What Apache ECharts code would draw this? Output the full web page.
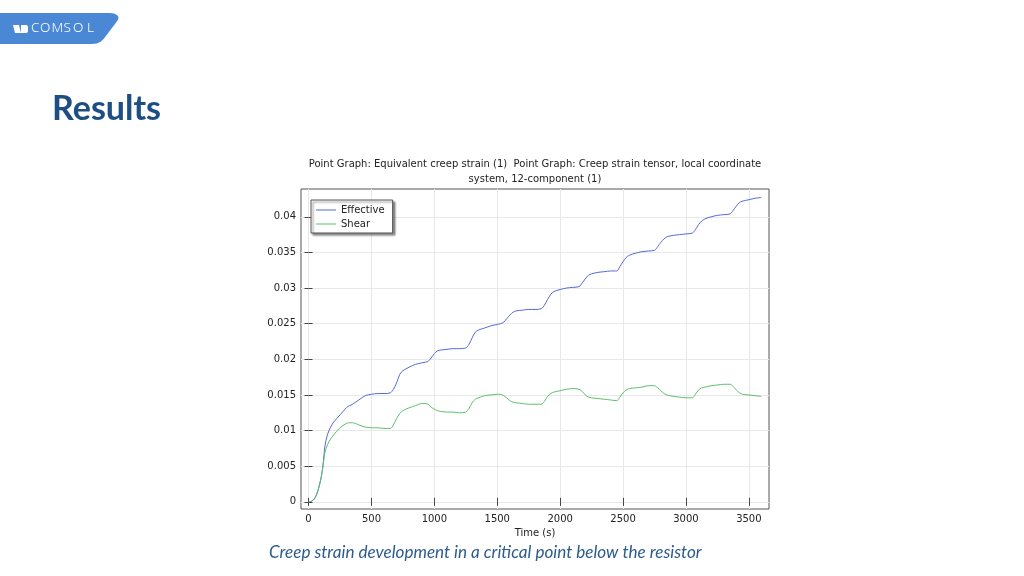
<!DOCTYPE html>
<html>
<head>
<meta charset="utf-8">
<script src="https://cdn.jsdelivr.net/npm/echarts@6.0.0/dist/echarts.min.js"></script>
<style>
  html, body { margin: 0; padding: 0; background: #fff; }
  #chart { width: 1024px; height: 576px; }
</style>
</head>
<body>
<div id="chart"></div>
<script>
// time (s)
const times = [
  0, 25, 50, 75, 100, 115, 130, 150, 175, 200, 250, 300, 325, 350, 400, 450, 500, 550, 600, 650,
  675, 700, 725, 750, 800, 850, 900, 925, 950, 975, 1000, 1025, 1050, 1100, 1150, 1200, 1250,
  1275, 1300, 1325, 1350, 1400, 1450, 1500, 1525, 1550, 1575, 1600, 1625, 1650, 1700, 1750, 1800, 1850,
  1875, 1900, 1925, 1950, 2000, 2050, 2100, 2150, 2175, 2200, 2225, 2250, 2300, 2350, 2400, 2450,
  2475, 2500, 2525, 2550, 2600, 2650, 2700, 2750, 2775, 2800, 2825, 2850, 2900, 2950, 3000, 3050,
  3075, 3100, 3125, 3150, 3200, 3250, 3300, 3350, 3375, 3400, 3425, 3450, 3500, 3550, 3600
];

const effective = [
  0, 0.0001, 0.0005, 0.0016, 0.0034, 0.0052, 0.0078, 0.0094, 0.0105, 0.0112, 0.0122, 0.0132, 0.0135, 0.0137, 0.0143, 0.0149, 0.0151, 0.0152, 0.0152, 0.0153,
  0.0158, 0.0167, 0.0179, 0.0184, 0.0189, 0.0193, 0.0195, 0.0196, 0.0197, 0.0202, 0.0208, 0.0212, 0.0213, 0.0214, 0.0215, 0.0215, 0.0216,
  0.0221, 0.0230, 0.0238, 0.0241, 0.0244, 0.0247, 0.0249, 0.0250, 0.0252, 0.0257, 0.0262, 0.0266, 0.0268, 0.0269, 0.0270, 0.0270, 0.0271,
  0.0276, 0.0284, 0.0291, 0.0295, 0.0298, 0.0300, 0.0301, 0.0302, 0.0307, 0.0313, 0.0318, 0.0320, 0.0322, 0.0323, 0.0324, 0.0324,
  0.0330, 0.0337, 0.0343, 0.0346, 0.0349, 0.0351, 0.0352, 0.0353, 0.0358, 0.0364, 0.0369, 0.0372, 0.0374, 0.0375, 0.0376, 0.0377,
  0.0382, 0.0389, 0.0394, 0.0397, 0.0400, 0.0402, 0.0403, 0.0404, 0.0409, 0.0415, 0.0420, 0.0422, 0.0424, 0.0426, 0.0427
];

const shear = [
  0, 0.0001, 0.0005, 0.0016, 0.0034, 0.0050, 0.0069, 0.0080, 0.0088, 0.0094, 0.0104, 0.0110, 0.0111, 0.0111, 0.0108, 0.0105, 0.0104, 0.0104, 0.0103, 0.0103,
  0.0108, 0.0117, 0.0124, 0.0128, 0.0132, 0.0135, 0.0138, 0.0138, 0.0137, 0.0133, 0.0130, 0.0128, 0.0127, 0.0126, 0.0126, 0.0125, 0.0126,
  0.0131, 0.0139, 0.0144, 0.0146, 0.0149, 0.0150, 0.0151, 0.0151, 0.0149, 0.0146, 0.0142, 0.0140, 0.0139, 0.0138, 0.0137, 0.0137, 0.0137,
  0.0141, 0.0148, 0.0152, 0.0154, 0.0156, 0.0158, 0.0159, 0.0158, 0.0155, 0.0150, 0.0147, 0.0146, 0.0145, 0.0144, 0.0143, 0.0142,
  0.0147, 0.0153, 0.0157, 0.0159, 0.0160, 0.0161, 0.0163, 0.0163, 0.0160, 0.0156, 0.0152, 0.0150, 0.0148, 0.0147, 0.0146, 0.0146,
  0.0151, 0.0157, 0.0160, 0.0161, 0.0163, 0.0164, 0.0165, 0.0165, 0.0162, 0.0157, 0.0153, 0.0151, 0.0150, 0.0149, 0.0148
];

const xTicks = [0, 500, 1000, 1500, 2000, 2500, 3000, 3500];
const yTicks = [0, 0.005, 0.01, 0.015, 0.02, 0.025, 0.03, 0.035, 0.04];

const plotFont = 'DejaVu Sans';

const zip = (xs, ys) => xs.map((x, i) => [x, ys[i]]);

const frameAxis = (pos, ticks, isX) => ({
  type: 'value',
  position: pos,
  min: isX ? -60 : -0.001,
  max: isX ? 3660 : 0.0439,
  axisLine: { show: false },
  axisTick: { show: true, inside: true, length: 4, customValues: ticks, lineStyle: { color: '#444' } },
  axisLabel: { show: false, customValues: ticks },
  splitLine: { show: false }
});

// logo letters, spaced out like the slide's wordmark
const logoLetters = [['C', 31], ['O', 40], ['M', 51.5], ['S', 63.5], ['O', 73], ['L', 87]];

const chart = echarts.init(document.getElementById('chart'));

chart.setOption({
  animation: false,
  title: {
    text: 'Point Graph: Equivalent creep strain (1)  Point Graph: Creep strain tensor, local coordinate\nsystem, 12-component (1)',
    left: 535,
    top: 157,
    textAlign: 'center',
    padding: 0,
    textStyle: { fontFamily: plotFont, fontSize: 10, fontWeight: 'normal', color: '#222', lineHeight: 15 }
  },
  legend: {
    orient: 'vertical',
    left: 311,
    top: 200,
    backgroundColor: '#fff',
    borderColor: '#555',
    borderWidth: 1,
    borderRadius: 0,
    shadowColor: 'rgba(0,0,0,0.45)',
    shadowBlur: 2,
    shadowOffsetX: 2,
    shadowOffsetY: 2,
    padding: [5, 8, 4, 5],
    itemGap: 4,
    itemWidth: 20,
    itemHeight: 1,
    icon: 'rect',
    textStyle: { fontFamily: plotFont, fontSize: 10, color: '#222', padding: [0, 0, 0, 0] },
    data: ['Effective', 'Shear']
  },
  grid: {
    left: 301,
    top: 189,
    width: 468,
    height: 320,
    show: true,
    borderColor: '#555',
    borderWidth: 1
  },
  xAxis: [
    {
      type: 'value',
      min: -60,
      max: 3660,
      name: 'Time (s)',
      nameLocation: 'middle',
      nameGap: 13,
      nameTextStyle: { fontFamily: plotFont, fontSize: 10, color: '#222' },
      axisLine: { show: false },
      axisTick: { show: true, inside: true, length: 4, customValues: xTicks, lineStyle: { color: '#444' } },
      axisLabel: { customValues: xTicks, formatter: v => String(v), fontFamily: plotFont, fontSize: 10, color: '#222', margin: 5 },
      splitLine: { show: true, lineStyle: { color: '#e8e8e8', width: 1 } }
    },
    frameAxis('top', xTicks, true)
  ],
  yAxis: [
    {
      type: 'value',
      min: -0.001,
      max: 0.0439,
      axisLine: { show: false },
      axisTick: { show: true, inside: true, length: 4, customValues: yTicks, lineStyle: { color: '#444' } },
      axisLabel: { customValues: yTicks, fontFamily: plotFont, fontSize: 10, color: '#222', margin: 5 },
      splitLine: { show: true, lineStyle: { color: '#e8e8e8', width: 1 } }
    },
    frameAxis('right', yTicks, false)
  ],
  series: [
    {
      name: 'Effective',
      type: 'line',
      data: zip(times, effective),
      symbol: 'none',
      smooth: 0.3,
      lineStyle: { color: '#5567d8', width: 1 },
      itemStyle: { color: '#5567d8' }
    },
    {
      name: 'Shear',
      type: 'line',
      data: zip(times, shear),
      symbol: 'none',
      smooth: 0.3,
      lineStyle: { color: '#5cbf6a', width: 1 },
      itemStyle: { color: '#5cbf6a' }
    }
  ],
  graphic: [
    {
      type: 'polygon',
      shape: {
        points: [[0, 13], [110, 13], [114, 13.5], [117, 15], [118.5, 17], [118, 19.5], [116.5, 22],
                 [104, 38.5], [101, 41.5], [97, 43.5], [92, 44], [0, 44]]
      },
      style: { fill: '#4a88d6' }
    },
    {
      type: 'polygon',
      shape: { points: [[13, 25], [19, 25], [21, 33], [15, 33]] },
      style: { fill: '#fff' }
    },
    {
      type: 'rect',
      shape: { x: 21, y: 25, width: 7, height: 8, r: [0, 2, 2, 0] },
      style: { fill: '#fff' }
    },
    ...logoLetters.map(([ch, x]) => ({
      type: 'text',
      left: x,
      top: 21.5,
      style: { text: ch, fill: '#fff', font: '300 13.5px "Noto Sans"' }
    })),
    {
      type: 'text',
      left: 52,
      top: 92,
      style: { text: 'Results', fill: '#1d4f82', font: 'bold 34px Lato' }
    },
    {
      type: 'text',
      left: 269,
      top: 544,
      style: { text: 'Creep strain development in a critical point below the resistor', fill: '#2c5b8e', font: 'italic 17.1px Lato' }
    }
  ]
});
</script>
</body>
</html>
